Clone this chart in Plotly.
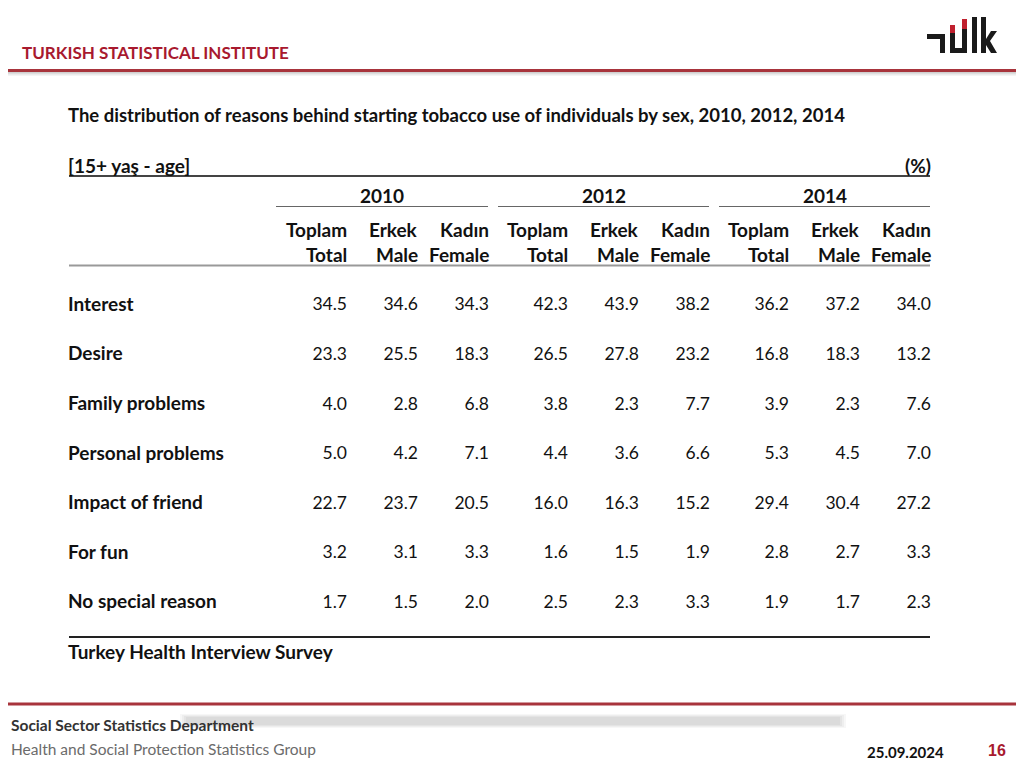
import plotly.graph_objects as go

# ---------------- data ----------------
years = ["2010", "2012", "2014"]
sub_tr = ["Toplam", "Erkek", "Kadın"]
sub_en = ["Total", "Male", "Female"]
reasons = ["Interest", "Desire", "Family problems", "Personal problems",
           "Impact of friend", "For fun", "No special reason"]

total_2010 = [34.5, 23.3, 4.0, 5.0, 22.7, 3.2, 1.7]
male_2010 = [34.6, 25.5, 2.8, 4.2, 23.7, 3.1, 1.5]
female_2010 = [34.3, 18.3, 6.8, 7.1, 20.5, 3.3, 2.0]
total_2012 = [42.3, 26.5, 3.8, 4.4, 16.0, 1.6, 2.5]
male_2012 = [43.9, 27.8, 2.3, 3.6, 16.3, 1.5, 2.3]
female_2012 = [38.2, 23.2, 7.7, 6.6, 15.2, 1.9, 3.3]
total_2014 = [36.2, 16.8, 3.9, 5.3, 29.4, 2.8, 1.9]
male_2014 = [37.2, 18.3, 2.3, 4.5, 30.4, 2.7, 1.7]
female_2014 = [34.0, 13.2, 7.6, 7.0, 27.2, 3.3, 2.3]

columns = [total_2010, male_2010, female_2010,
           total_2012, male_2012, female_2012,
           total_2014, male_2014, female_2014]

title = "The distribution of reasons behind starting tobacco use of individuals by sex, 2010, 2012, 2014"
unit_left = "[15+ yaş - age]"
unit_right = "(%)"
source = "Turkey Health Interview Survey"
org = "TURKISH STATISTICAL INSTITUTE"
dept = "Social Sector Statistics Department"
group = "Health and Social Protection Statistics Group"
date = "25.09.2024"
page = "16"

# ---------------- layout constants ----------------
FONT = "Lato"
RED = "#A8192E"
TXT = "#111111"
W, H = 1024, 768
OFF = 8  # page body margin
LEFT, RIGHT = 69, 930
col_right = [346, 417, 488, 567, 638, 709, 788, 859, 930]
year_spans = [(276, 488), (498, 709), (719, 930)]
row_y0, row_step = 306, 49.6
row_ys = [row_y0 + i * row_step for i in range(len(reasons))]
FS_B = 19     # bold labels
FS_N = 17.5   # numbers

fig = go.Figure()

# row labels
fig.add_trace(go.Scatter(
    x=[LEFT - 1] * len(reasons), y=row_ys, mode="text",
    text=[f"<b>{r}</b>" for r in reasons], textposition="middle right",
    textfont=dict(family=FONT, size=FS_B, color=TXT), hoverinfo="skip", showlegend=False))

# values
for cx, vals in zip(col_right, columns):
    fig.add_trace(go.Scatter(
        x=[cx + 1] * len(vals), y=row_ys, mode="text",
        text=[f"{v:.1f}" for v in vals], textposition="middle left",
        textfont=dict(family=FONT, size=FS_N, color=TXT), hoverinfo="skip", showlegend=False))

ann = []
def A(x, y, t, size=FS_B, color=TXT, xanchor="left", bold=True, family=FONT):
    ann.append(dict(x=x, y=y, xref="x", yref="y", text=(f"<b>{t}</b>" if bold else t),
                    showarrow=False, xanchor=xanchor, yanchor="middle",
                    font=dict(family=family, size=size, color=color)))

A(20, 52, org, size=17, color=RED)
A(LEFT - 3, 115, title, size=18.5)
A(LEFT - 3, 165, unit_left)
A(RIGHT + 3, 165, unit_right, xanchor="right")
for (a, b), yr in zip(year_spans, years):
    A((a + b) / 2, 195, yr, xanchor="center")
for i, cx in enumerate(col_right):
    A(cx + 3, 229, sub_tr[i % 3], xanchor="right")
    A(cx + 3, 254, sub_en[i % 3], xanchor="right")
A(LEFT - 3, 651, source)
A(9, 725, dept, size=15.5, color="#333333")
A(9, 749, group, size=15.5, color="#6b6b6b", bold=False)
A(946, 752, date, size=15, color="#111111", xanchor="right")
A(1008, 750, page, size=16, color=RED, xanchor="right", family="Liberation Sans")

shapes = []
def L(x0, y0, x1, y1, color, width):
    shapes.append(dict(type="line", xref="x", yref="y", x0=x0, y0=y0, x1=x1, y1=y1,
                       line=dict(color=color, width=width), layer="above"))
def R(x0, y0, x1, y1, color, opacity=1.0):
    shapes.append(dict(type="rect", xref="x", yref="y", x0=x0, y0=y0, x1=x1, y1=y1,
                       fillcolor=color, line=dict(width=0), opacity=opacity, layer="below"))

# header line with shadow
for k, op in enumerate([0.35, 0.25, 0.15, 0.08]):
    L(OFF, 72.5 + k, W, 72.5 + k, f"rgba(120,120,120,{op})", 1)
L(OFF, 70.5, W, 70.5, "#A8343C", 3)

# table rules
L(LEFT, 176, RIGHT, 176, "#444444", 2)
for a, b in year_spans:
    L(a, 206.5, b, 206.5, "#666666", 1)
L(LEFT, 265.5, RIGHT, 265.5, "#999999", 2)
L(LEFT, 637, RIGHT, 637, "#222222", 2)

# footer line and shadow bar
L(OFF, 704, W, 704, "#A8343C", 3)
for k, op in enumerate([0.10, 0.12, 0.15, 0.18]):
    shapes.append(dict(type="rect", xref="x", yref="y", x0=180 + k * 2, y0=714 + k, x1=846 - k * 2, y1=728 - k,
                       fillcolor="#b0b0b0", line=dict(width=0), opacity=op, layer="below"))

# logo (approximate)
DK = "#1a1a1a"
R(927, 34, 945, 39, DK)
R(940, 34, 945, 53, DK)
R(950, 31, 955, 53, DK)
R(962, 27, 967, 53, DK)
R(950, 48, 967, 53, DK)
R(950, 25, 955, 33, "#C0202E")
R(962, 19, 967, 29, "#C0202E")
R(972, 17, 977, 53, DK)
shapes.append(dict(type="path", xref="x", yref="y",
                   path="M 981 17 L 986 17 L 986 39 L 991 31 L 997 31 L 990 41 L 997 53 L 991 53 L 986 45 L 986 53 L 981 53 Z",
                   fillcolor=DK, line=dict(width=0), layer="below"))

fig.update_layout(
    width=W - OFF, height=H - OFF, margin=dict(l=0, r=0, t=0, b=0),
    paper_bgcolor="white", plot_bgcolor="white",
    xaxis=dict(range=[OFF, W], visible=False, fixedrange=True),
    yaxis=dict(range=[H, OFF], visible=False, fixedrange=True),
    annotations=ann, shapes=shapes, showlegend=False,
)
fig.write_html("out.html")
